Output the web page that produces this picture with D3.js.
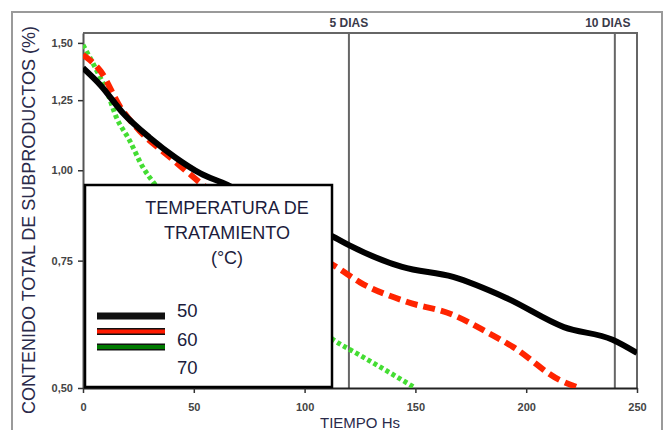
<!DOCTYPE html>
<html>
<head>
<meta charset="utf-8">
<script src="https://cdn.jsdelivr.net/npm/d3@7"></script>
<style>
  body { margin: 0; background: #fff; }
  svg { font-family: Arial, "Liberation Sans", sans-serif; }
</style>
</head>
<body>
<svg id="chart" width="666" height="430"></svg>
<script>
// values (time in hours, content in %)
const t50 = [0, 8, 18, 30, 42, 53, 65, 80, 100, 114, 120, 144, 167, 191, 217, 239, 250];
const v50 = [1.385, 1.31, 1.20, 1.11, 1.04, 0.99, 0.955, 0.90, 0.845, 0.806, 0.788, 0.735, 0.712, 0.666, 0.607, 0.583, 0.559];
const t60 = [0, 8, 17, 26, 38, 47, 53, 70, 90, 115, 125, 146, 167, 182, 194, 215, 224];
const v60 = [1.444, 1.37, 1.22, 1.13, 1.05, 0.995, 0.96, 0.88, 0.81, 0.733, 0.70, 0.658, 0.631, 0.598, 0.570, 0.513, 0.50];
const t70 = [0, 6, 11, 15, 21, 27, 32, 50, 75, 95, 113, 125, 138, 150];
const v70 = [1.49, 1.377, 1.28, 1.185, 1.10, 1.01, 0.96, 0.84, 0.72, 0.65, 0.583, 0.555, 0.526, 0.50];
const temps = ["50", "60", "70"];
const xTicks = [0, 50, 100, 150, 200, 250];
const yTicks = [0.5, 0.75, 1.0, 1.25, 1.5];
const marks = [120, 240];
const markLabels = ["5 DIAS", "10 DIAS"];

const svg = d3.select("#chart");
const pL = 83, pR = 637, pT = 33, pB = 388;

const x = d3.scaleLinear().domain([0, 250]).range([pL, pR]);
const y = d3.scaleLog().domain([0.5, 1.548]).range([pB, pT]);

// outer frame
svg.append("path")
  .attr("d", "M12,430 V12 H662 V430")
  .attr("fill", "none").attr("stroke", "#9a9a9a").attr("stroke-width", 2);

// plot frame (top / right)
svg.append("path")
  .attr("d", `M${pL},${pT} H${pR} V${pB}`)
  .attr("fill", "none").attr("stroke", "#666").attr("stroke-width", 2);

// day markers
marks.forEach((m, i) => {
  svg.append("line")
    .attr("x1", x(m)).attr("x2", x(m)).attr("y1", pT).attr("y2", pB)
    .attr("stroke", "#666").attr("stroke-width", 2);
  svg.append("text")
    .attr("x", i === 0 ? x(m) : x(m) - 7).attr("y", 27)
    .attr("text-anchor", "middle")
    .attr("font-size", 12).attr("font-weight", "bold").attr("fill", "#3a3a4a")
    .text(markLabels[i]);
});

const fmt = (d) => d3.format(".2f")(d).replace(".", ",");

const yAxis = svg.append("g")
  .attr("transform", `translate(${pL},0)`)
  .call(d3.axisLeft(y).tickValues(yTicks).tickFormat(fmt).tickSize(5).tickPadding(5).tickSizeOuter(0));
yAxis.select(".domain").attr("stroke", "#555").attr("stroke-width", 2);
yAxis.selectAll(".tick line").attr("stroke", "#333").attr("stroke-width", 1.5);
yAxis.selectAll(".tick text").attr("font-size", 11).attr("font-weight", "bold").attr("fill", "#444").attr("font-family", "Arial, 'Liberation Sans', sans-serif");

const xAxis = svg.append("g")
  .attr("transform", `translate(0,${pB})`)
  .call(d3.axisBottom(x).tickValues(xTicks).tickSize(5).tickPadding(10).tickSizeOuter(0));
xAxis.select(".domain").attr("stroke", "#222").attr("stroke-width", 2);
xAxis.selectAll(".tick line").attr("stroke", "#333").attr("stroke-width", 1.5);
xAxis.selectAll(".tick text").attr("font-size", 11).attr("font-weight", "bold").attr("fill", "#444").attr("font-family", "Arial, 'Liberation Sans', sans-serif");

// curves
svg.append("clipPath").attr("id", "clip")
  .append("rect").attr("x", pL).attr("y", pT).attr("width", pR - pL).attr("height", pB - pT);

const line = d3.line().x((d) => x(d[0])).y((d) => y(d[1])).curve(d3.curveMonotoneX);
const series = [
  { pts: d3.zip(t50, v50), color: "#000", dash: null, w: 6 },
  { pts: d3.zip(t60, v60), color: "#ff2400", dash: "12,6", w: 6 },
  { pts: d3.zip(t70, v70), color: "#44dd33", dash: "4,3", w: 5 },
];
const g = svg.append("g").attr("clip-path", "url(#clip)");
series.slice().reverse().forEach((s) => {
  g.append("path")
    .attr("d", line(s.pts))
    .attr("fill", "none")
    .attr("stroke", s.color)
    .attr("stroke-width", s.w)
    .attr("stroke-dasharray", s.dash);
});

// legend
const lg = svg.append("g");
lg.append("rect")
  .attr("x", 85).attr("y", 185).attr("width", 247).attr("height", 202)
  .attr("fill", "#fff").attr("stroke", "#000").attr("stroke-width", 2.5);
["TEMPERATURA DE", "TRATAMIENTO", "(°C)"].forEach((txt, i) => {
  lg.append("text")
    .attr("x", 227).attr("y", 214 + i * 25)
    .attr("text-anchor", "middle")
    .attr("font-size", 18).attr("fill", "#1c1c3c")
    .text(txt);
});
const legendColors = ["#000", "#ff1a00", "#007a00"];
temps.forEach((tmp, i) => {
  const ly = 316 + i * 15.5;
  lg.append("rect")
    .attr("x", 97).attr("y", ly - 3.5).attr("width", 68).attr("height", 7)
    .attr("fill", "#111");
  if (i > 0) {
    lg.append("rect")
      .attr("x", 97).attr("y", ly - 2).attr("width", 68).attr("height", 4)
      .attr("fill", legendColors[i]);
  }
  lg.append("text")
    .attr("x", 177).attr("y", 317 + i * 28.5)
    .attr("font-size", 18.5).attr("fill", "#1c1c3c")
    .text(tmp);
});

// axis titles
svg.append("text")
  .attr("transform", `translate(35,220) rotate(-90)`)
  .attr("text-anchor", "middle")
  .attr("font-size", 18).attr("fill", "#2a2a4a")
  .text("CONTENIDO TOTAL DE SUBPRODUCTOS (%)");
svg.append("text")
  .attr("x", 360).attr("y", 428)
  .attr("text-anchor", "middle")
  .attr("font-size", 15).attr("fill", "#2a2a4a")
  .text("TIEMPO Hs");
</script>
</body>
</html>
